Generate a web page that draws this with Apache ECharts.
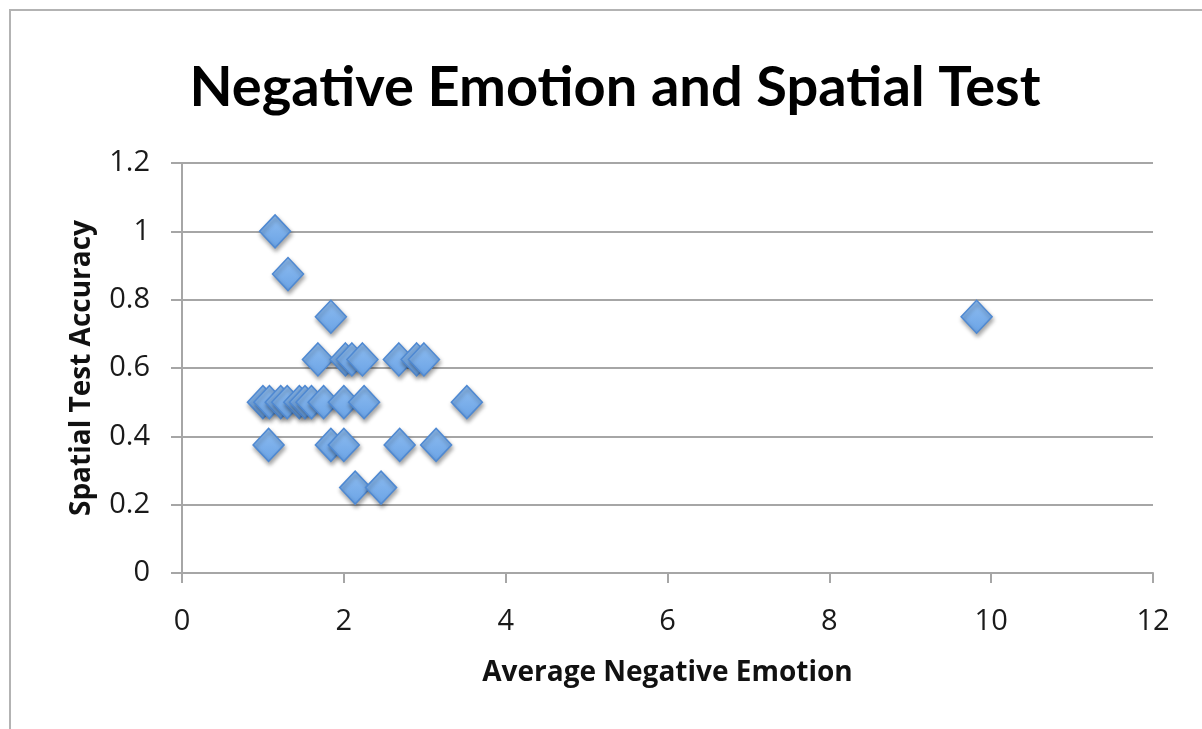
<!DOCTYPE html>
<html>
<head>
<meta charset="utf-8">
<script src="https://cdn.jsdelivr.net/npm/echarts@6/dist/echarts.min.js"></script>
<style>
  html, body { margin: 0; padding: 0; background: #fff; }
  #chart { width: 1202px; height: 729px; }
</style>
</head>
<body>
<div id="chart"></div>
<script>
// Average negative emotion score per participant
const negativeEmotion = [
  1.15, 1.31, 1.84,
  1.68, 2.02, 2.1, 2.23, 2.68, 2.9, 2.99,
  1.0, 1.08, 1.22, 1.3, 1.45, 1.52, 1.6, 1.75, 2.0, 2.25, 3.52,
  1.07, 1.84, 2.0, 2.69, 3.14,
  2.14, 2.46,
  9.82
];
// Spatial test accuracy per participant
const spatialAccuracy = [
  1.0, 0.875, 0.75,
  0.625, 0.625, 0.625, 0.625, 0.625, 0.625, 0.625,
  0.5, 0.5, 0.5, 0.5, 0.5, 0.5, 0.5, 0.5, 0.5, 0.5, 0.5,
  0.375, 0.375, 0.375, 0.375, 0.375,
  0.25, 0.25,
  0.75
];
const xTicks = [0, 2, 4, 6, 8, 10, 12];
const yTicks = [0, 0.2, 0.4, 0.6, 0.8, 1, 1.2];

const points = negativeEmotion.map((x, i) => [x, spatialAccuracy[i]]);

const chart = echarts.init(document.getElementById('chart'));
const tickFont = { fontFamily: 'Open Sans', fontSize: 29, color: '#1a1a1a' };
const nameFont = { fontFamily: 'Open Sans', fontWeight: 'bold', fontSize: 28, color: '#111' };

chart.setOption({
  animation: false,
  backgroundColor: '#fff',
  title: {
    text: 'Negative Emotion and Spatial Test',
    left: 610,
    textAlign: 'center',
    top: 55,
    textStyle: { fontFamily: 'Lato', fontWeight: 'bold', fontSize: 56, color: '#000' }
  },
  graphic: [{
    type: 'rect',
    shape: { x: 10, y: 10, width: 1250, height: 760 },
    style: { fill: 'none', stroke: '#b3b3b3', lineWidth: 2 },
    silent: true
  }],
  grid: { left: 182, right: 49, top: 163, bottom: 156, containLabel: false },
  xAxis: {
    type: 'value',
    min: xTicks[0],
    max: xTicks[xTicks.length - 1],
    interval: 2,
    name: 'Average Negative Emotion',
    nameLocation: 'middle',
    nameGap: 86,
    nameTextStyle: nameFont,
    axisLine: { show: true, lineStyle: { color: '#a6a6a6', width: 2 } },
    axisTick: { show: true, length: 10, lineStyle: { color: '#a6a6a6', width: 2 } },
    axisLabel: Object.assign({ margin: 34 }, tickFont),
    splitLine: { show: false }
  },
  yAxis: {
    type: 'value',
    min: yTicks[0],
    max: yTicks[yTicks.length - 1],
    interval: 0.2,
    name: 'Spatial Test Accuracy',
    nameLocation: 'middle',
    nameGap: 86,
    nameRotate: 90,
    nameTextStyle: nameFont,
    axisLine: { show: true, lineStyle: { color: '#a6a6a6', width: 2 } },
    axisTick: { show: true, inside: false, length: 11, lineStyle: { color: '#a6a6a6', width: 2 } },
    axisLabel: Object.assign({ margin: 32, formatter: v => String(Math.round(v * 10) / 10) }, tickFont),
    splitLine: { show: true, lineStyle: { color: '#a6a6a6', width: 2 } }
  },
  series: [{
    type: 'scatter',
    data: points,
    symbol: 'diamond',
    symbolSize: [31, 33],
    itemStyle: {
      opacity: 1,
      color: new echarts.graphic.LinearGradient(0, 0, 0, 1, [
        { offset: 0, color: '#8fbdf0' },
        { offset: 1, color: '#6aa3e6' }
      ]),
      borderColor: '#4f89d2',
      borderWidth: 1.5,
      shadowColor: 'rgba(0,0,0,0.35)',
      shadowBlur: 4,
      shadowOffsetX: 1,
      shadowOffsetY: 3
    }
  }]
});
</script>
</body>
</html>
